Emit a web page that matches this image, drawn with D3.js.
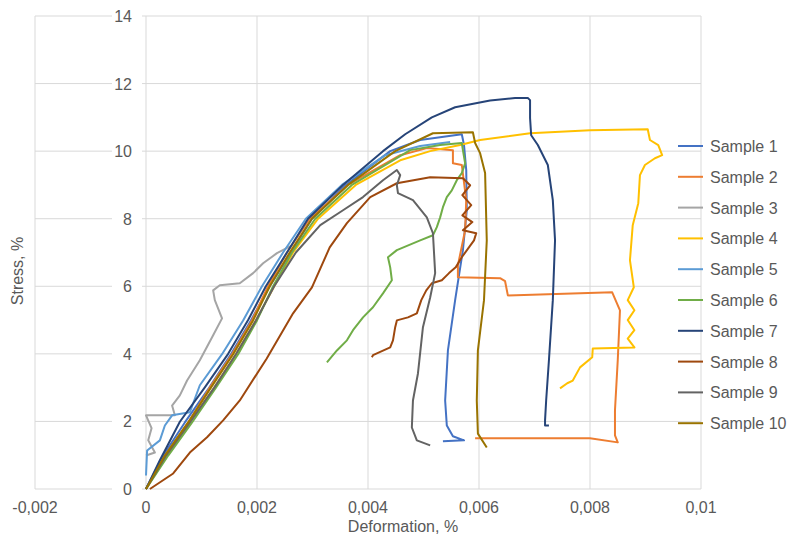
<!DOCTYPE html>
<html>
<head>
<meta charset="utf-8">
<title>Stress vs deformation</title>
<script src="https://cdnjs.cloudflare.com/ajax/libs/d3/7.8.5/d3.min.js"></script>
<style>
  body { margin: 0; background: #fff; }
  text { font-family: "Liberation Sans", Arial, sans-serif; fill: #595959; }
</style>
</head>
<body>
<svg id="chart" width="795" height="534"></svg>
<script>
// axis ticks
var xTicks = [-0.002, 0, 0.002, 0.004, 0.006, 0.008, 0.01];
var xTickLabels = ["-0,002", "0", "0,002", "0,004", "0,006", "0,008", "0,01"];
var yTicks = [0, 2, 4, 6, 8, 10, 12, 14];

var seriesNames = ["Sample 1", "Sample 2", "Sample 3", "Sample 4", "Sample 5",
                   "Sample 6", "Sample 7", "Sample 8", "Sample 9", "Sample 10"];
var seriesColors = ["#4472c4", "#ed7d31", "#a5a5a5", "#ffc000", "#5b9bd5",
                    "#70ad47", "#264478", "#9e480e", "#636363", "#997300"];

// [deformation, stress]
var sample1 = [[0,0],[0.00031,0.99],[0.0007,1.97],[0.00114,3.0],[0.00153,3.99],[0.00189,4.99],
  [0.00223,6.0],[0.00261,7.0],[0.00299,8.0],[0.0036,9.0],[0.0044,10.0],[0.00494,10.33],[0.00569,10.5],
  [0.00573,10.18],[0.00577,9.44],[0.00578,8.25],[0.00571,7.07],[0.00557,5.59],[0.00544,4.1],
  [0.00539,2.62],[0.00542,1.88],[0.00553,1.56],[0.00573,1.44],[0.00535,1.41]];
var sample2 = [[0,0],[0.00034,0.99],[0.00076,1.97],[0.00115,3.0],[0.00155,3.99],[0.00191,4.99],
  [0.0022,6.0],[0.00254,7.0],[0.00295,8.0],[0.00364,9.0],[0.00458,9.88],[0.00506,10.09],[0.00553,10.03],
  [0.00553,9.64],[0.00569,9.59],[0.00577,8.55],[0.00575,7.66],[0.00562,6.62],[0.00562,6.27],
  [0.00638,6.24],[0.00647,6.15],[0.00652,5.73],[0.0084,5.82],[0.00854,5.29],[0.0085,3.81],
  [0.00845,2.33],[0.00845,1.59],[0.0085,1.38],[0.008,1.5],[0.00593,1.5]];
var sample3 = [[0,0.99],[0.00016,1.08],[0.00004,1.44],[0.0001,1.8],[0,2.18],[0.00052,2.18],
  [0.00047,2.47],[0.00061,2.77],[0.00074,3.21],[0.00097,3.81],[0.00121,4.55],[0.00137,5.05],
  [0.00124,5.59],[0.00121,5.88],[0.00133,6.03],[0.00169,6.09],[0.00193,6.39],[0.00211,6.68],
  [0.00236,6.98],[0.00263,7.21]];
var sample4 = [[0,0],[0.00038,0.99],[0.00079,1.97],[0.00123,3.0],[0.00162,3.99],[0.00198,4.99],
  [0.00231,6.0],[0.00265,7.0],[0.0031,8.0],[0.00378,9.0],[0.00458,9.73],[0.00512,10.0],[0.00566,10.18],
  [0.00602,10.33],[0.00692,10.53],[0.008,10.62],[0.00904,10.65],[0.00908,10.33],[0.00923,10.18],
  [0.0093,9.88],[0.00917,9.79],[0.00899,9.59],[0.0089,9.29],[0.00887,8.46],[0.00877,7.81],
  [0.00872,6.77],[0.00879,5.97],[0.00868,5.59],[0.0088,5.29],[0.00868,5.0],[0.0088,4.7],
  [0.00868,4.45],[0.0088,4.19],[0.00805,4.16],[0.00804,3.9],[0.00782,3.6],[0.00769,3.21],
  [0.00759,3.13],[0.00746,2.98]];
var sample5 = [[0,0.4],[0.00002,1.14],[0.00025,1.44],[0.00034,1.88],[0.00047,2.18],[0.00079,2.27],
  [0.00097,3.07],[0.00137,3.99],[0.00175,4.99],[0.00209,6.0],[0.00247,7.0],[0.00288,8.0],
  [0.00353,9.0],[0.00431,9.88],[0.00494,10.15],[0.00548,10.27]];
var sample6 = [[0,0],[0.0004,0.99],[0.00083,1.97],[0.00126,3.0],[0.00166,3.99],[0.002,4.99],
  [0.00229,6.0],[0.00263,7.0],[0.00305,8.0],[0.00371,9.0],[0.00476,10.03],[0.0053,10.18],[0.00569,10.24],
  [0.00571,10.03],[0.00575,9.64],[0.00569,9.35],[0.0056,9.14],[0.00551,8.84],[0.00542,8.64],
  [0.00535,8.34],[0.0053,8.04],[0.00524,7.75],[0.00517,7.51],[0.00494,7.36],[0.00452,7.07],
  [0.00436,6.86],[0.0044,6.56],[0.00443,6.18],[0.00427,5.79],[0.00409,5.38],[0.00391,5.08],
  [0.00373,4.7],[0.00362,4.4],[0.00344,4.1],[0.00326,3.75]];
var sample7 = [[0,0],[0.00025,0.85],[0.00061,1.99],[0.00106,3.01],[0.00148,4.0],[0.00184,5.0],
  [0.00216,6.0],[0.00254,7.0],[0.00292,8.0],[0.00355,9.0],[0.00427,10.0],[0.00467,10.5],[0.00515,11.0],
  [0.00557,11.3],[0.0062,11.5],[0.00665,11.57],[0.00688,11.57],[0.00692,11.51],[0.00692,10.98],
  [0.00694,10.47],[0.00706,10.18],[0.00724,9.59],[0.00733,8.55],[0.00737,7.36],[0.00733,5.59],
  [0.00726,3.81],[0.00721,2.62],[0.00719,2.03],[0.00719,1.88],[0.00726,1.88]];
var sample8 = [[0.00007,0],[0.00049,0.46],[0.00079,1.08],[0.0011,1.53],[0.00139,2.03],[0.00169,2.62],
  [0.00217,3.85],[0.00265,5.2],[0.00299,5.97],[0.00331,7.15],[0.00362,7.87],[0.00404,8.64],
  [0.00452,9.05],[0.00512,9.23],[0.00571,9.2],[0.00584,8.99],[0.0057,8.7],[0.00586,8.4],[0.0057,8.1],
  [0.00588,7.9],[0.00571,7.66],[0.00595,7.57],[0.00591,7.36],[0.00569,6.86],[0.00558,6.56],
  [0.00546,6.39],[0.00533,6.18],[0.00515,6.09],[0.00505,5.88],[0.00496,5.59],[0.00488,5.2],
  [0.00472,5.08],[0.00452,4.99],[0.00449,4.79],[0.00445,4.4],[0.0044,4.19],[0.00409,3.96],[0.00407,3.9]];
var sample9 = [[0,0],[0.00036,0.99],[0.00079,1.97],[0.00123,3.0],[0.00162,3.99],[0.00198,4.99],
  [0.00231,6.0],[0.0027,7.0],[0.00314,7.81],[0.00355,8.25],[0.00391,8.64],[0.00427,9.14],
  [0.00452,9.44],[0.00458,9.29],[0.00452,8.99],[0.00454,8.76],[0.00481,8.55],[0.00506,8.04],
  [0.00517,7.57],[0.00521,6.39],[0.00512,5.67],[0.00499,4.79],[0.0049,3.42],[0.00481,2.62],
  [0.00479,1.82],[0.00488,1.44],[0.00512,1.29]];
var sample10 = [[0,0],[0.00034,0.99],[0.00076,1.97],[0.00117,3.0],[0.00157,3.99],[0.00193,4.99],
  [0.00223,6.0],[0.00259,7.0],[0.00299,8.0],[0.00364,9.0],[0.00449,10.0],[0.00517,10.53],
  [0.00589,10.56],[0.00593,10.24],[0.00602,9.94],[0.00611,9.35],[0.00614,7.36],[0.00609,5.59],
  [0.00598,4.1],[0.00596,2.62],[0.00598,1.64],[0.00614,1.23]];

var allSeries = [sample1, sample2, sample3, sample4, sample5,
                 sample6, sample7, sample8, sample9, sample10];

var svg = d3.select("#chart");

var x = d3.scaleLinear().domain([-0.002, 0.01]).range([35, 701]);
var y = d3.scaleLinear().domain([0, 14]).range([489, 16]);

/* grid */
var grid = svg.append("g");
grid.selectAll(".vg").data(xTicks).enter().append("line")
    .attr("x1", d => x(d)).attr("x2", d => x(d))
    .attr("y1", y(0)).attr("y2", y(14))
    .attr("stroke", "#d9d9d9").attr("stroke-width", 1);
grid.selectAll(".hg").data(yTicks).enter().append("line")
    .attr("x1", x(-0.002)).attr("x2", x(0.01))
    .attr("y1", d => y(d)).attr("y2", d => y(d))
    .attr("stroke", "#d9d9d9").attr("stroke-width", 1);

/* series */
var line = d3.line().x(d => x(d[0])).y(d => y(d[1]));
svg.append("g").selectAll("path").data(allSeries).enter().append("path")
    .attr("d", line)
    .attr("fill", "none")
    .attr("stroke", (d, i) => seriesColors[i])
    .attr("stroke-width", 2)
    .attr("stroke-linejoin", "round");

/* y tick labels sit on the x=0 axis with a white box behind them */
var yl = svg.append("g");
yl.selectAll("rect").data(yTicks).enter().append("rect")
    .attr("x", x(0) - 34).attr("y", d => y(d) - 9)
    .attr("width", 30).attr("height", 18)
    .attr("fill", "#fff");
yl.selectAll("text").data(yTicks).enter().append("text")
    .attr("x", x(0) - 14).attr("y", d => y(d) + 6)
    .attr("text-anchor", "end")
    .style("font-size", "16px")
    .text(d => d);

svg.append("g").selectAll("text").data(xTicks).enter().append("text")
    .attr("x", d => x(d)).attr("y", 513)
    .attr("text-anchor", "middle")
    .style("font-size", "16px")
    .text((d, i) => xTickLabels[i]);

svg.append("text")
    .attr("x", 403).attr("y", 532)
    .attr("text-anchor", "middle")
    .style("font-size", "16px")
    .text("Deformation, %");

svg.append("text")
    .attr("transform", "translate(23,271) rotate(-90)")
    .attr("text-anchor", "middle")
    .style("font-size", "16px")
    .text("Stress, %");

/* legend */
var legend = svg.append("g").selectAll("g").data(seriesNames).enter().append("g")
    .attr("transform", (d, i) => "translate(678," + (146 + i * 30.8) + ")");
legend.append("line")
    .attr("x1", 0).attr("x2", 25)
    .attr("stroke", (d, i) => seriesColors[i])
    .attr("stroke-width", 2);
legend.append("text")
    .attr("x", 32).attr("y", 6)
    .style("font-size", "16px")
    .text(d => d);
</script>
</body>
</html>
